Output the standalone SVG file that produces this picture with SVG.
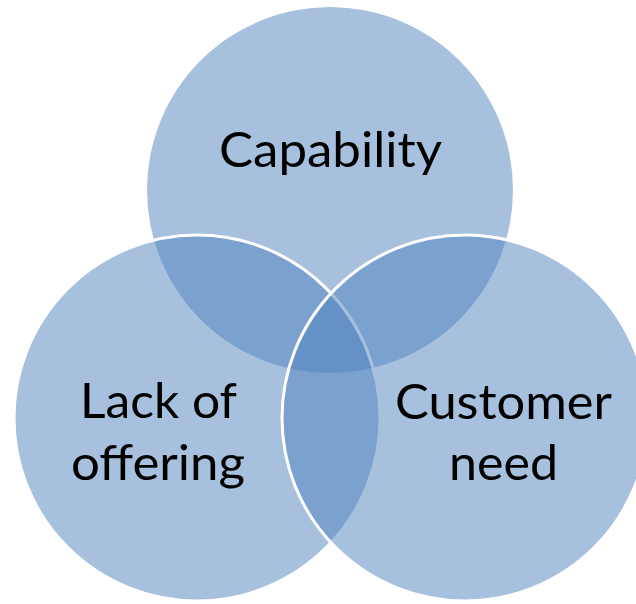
<svg xmlns="http://www.w3.org/2000/svg" width="636" height="604" viewBox="0 0 636 604">
  <style>
    .c { fill: #4f81bd; fill-opacity: 0.5; }
    .s { stroke: #ffffff; stroke-width: 3; }
    .t { font-family: Lato, "Open Sans", "Liberation Sans", sans-serif; font-size: 48px; fill: #000000; text-anchor: middle; }
  </style>
  <rect x="0" y="0" width="636" height="604" fill="#ffffff"/>
  <g id="capability">
    <circle class="c" cx="330" cy="190" r="183"/>
    <text class="t" x="330.5" y="167" textLength="223" lengthAdjust="spacingAndGlyphs">Capability</text>
  </g>
  <g id="lack-of-offering">
    <circle class="c s" cx="197" cy="418" r="183"/>
    <text class="t" x="158.5" y="418" textLength="157" lengthAdjust="spacingAndGlyphs">Lack of</text>
    <text class="t" x="158" y="480" textLength="174" lengthAdjust="spacingAndGlyphs">offering</text>
  </g>
  <g id="customer-need">
    <circle class="c s" cx="465" cy="418" r="183"/>
    <text class="t" x="503.5" y="419" textLength="217" lengthAdjust="spacingAndGlyphs">Customer</text>
    <text class="t" x="503.5" y="480" textLength="109" lengthAdjust="spacingAndGlyphs">need</text>
  </g>
</svg>
